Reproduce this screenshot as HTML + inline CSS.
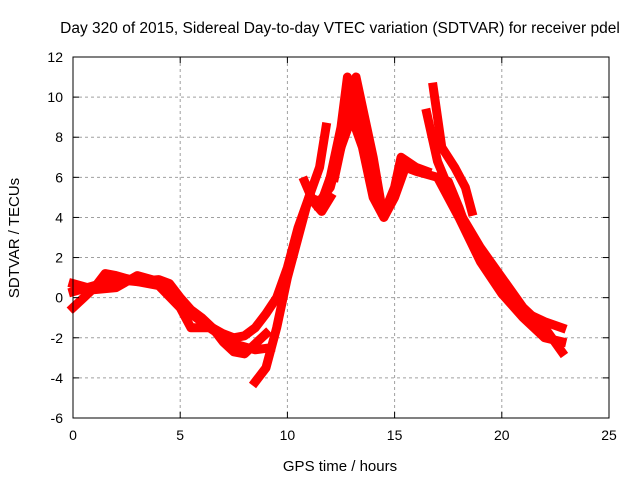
<!DOCTYPE html>
<html><head><meta charset="utf-8"><style>
body{margin:0;background:#fff;}
svg{display:block;font-family:"Liberation Sans",sans-serif;}
</style></head><body>
<svg id="chart" width="640" height="480" viewBox="0 0 640 480">
<rect width="640" height="480" fill="#fff"/>
<text x="340" y="33" font-size="15.5" text-anchor="middle">Day 320 of 2015, Sidereal Day-to-day VTEC variation (SDTVAR) for receiver pdel</text>
<g id="grid"></g><g id="series"></g><g id="axes"></g>
<text x="340" y="471" font-size="15" text-anchor="middle">GPS time / hours</text>
<text transform="translate(19,238) rotate(-90)" font-size="15" text-anchor="middle">SDTVAR / TECUs</text>
</svg>
<script>
const xTicks=[0,5,10,15,20,25];
const yTicks=[-6,-4,-2,0,2,4,6,8,10,12];
const trackA=[[0,0.3],[1,0.6],[2,0.9],[3,0.8],[4,0.9],[4.5,0.7],[5,0],[5.5,-0.6],[6,-1.0],[6.5,-1.5],[7,-1.8],[7.5,-2.0],[8,-1.9],[8.5,-1.5],[9,-0.8],[9.5,0],[10,1.5],[10.5,3.5],[11,5],[11.5,4.8],[12,5.5],[12.5,7.5],[13,9],[13.5,7.5],[14,5],[14.5,4],[15,5],[15.5,6.5],[16,6.3],[17,6],[17.5,5.8],[18,4.5],[18.5,3],[19,2],[19.5,1.3],[20,0.5],[20.5,-0.3],[21,-0.7],[22,-1.2],[22.8,-1.5]];
const trackB=[[0,-0.5],[0.5,0],[1,0.5],[1.5,1.2],[2,1.1],[3,0.8],[4,0.6],[5,-0.5],[5.5,-1.5],[6.5,-1.5],[7,-2.2],[7.5,-2.7],[8,-2.8],[8.5,-2.3],[9,-1.8]];
const trackC=[[0,0.7],[1,0.4],[2,0.5],[3,1.1],[4,0.8],[4.7,0.2],[5.5,-0.8],[6.5,-1.6],[7.5,-2.3],[8.5,-2.6],[9.2,-2.5]];
const trackD=[[8.5,-4.2],[9,-3.5],[9.5,-1.5],[10,1],[10.5,3],[11,5],[11.5,6.5],[11.8,8.5]];
const trackE=[[11.5,4.5],[12,6],[12.5,8.5],[12.8,11],[13,10.5],[13.5,8],[14,6],[14.5,4.2],[15,5.5],[15.3,7],[16,6.5],[16.5,6.3]];
const trackF=[[16.5,9.2],[17,6.8],[17.5,5.5],[18,4.3],[19,2.5],[20,1],[21,-0.5],[22,-1.5],[22.8,-2.7]];
const trackG=[[16.8,10.5],[17.2,7.5],[17.8,6.5],[18.3,5.5],[18.6,4.3]];
const trackH=[[17,6],[18,4],[19,1.8],[20,0.2],[21,-1],[22,-2],[22.8,-2.2]];
const trackI=[[12.2,6],[12.6,8],[13,10],[13.2,11],[13.5,9.5],[14,7],[14.4,4.5]];
const trackJ=[[10.8,5.8],[11.2,4.8],[11.6,4.3],[12,5]];
const tracks=[trackA,trackB,trackC,trackD,trackE,trackF,trackG,trackH,trackI,trackJ];
const X0=73,X1=609,Y0=418,Y1=57;
const xs=v=>X0+(v-0)/25*(X1-X0);
const ys=v=>Y0-(v+6)/18*(Y0-Y1);
const NS="http://www.w3.org/2000/svg";
const mk=(t,a,p)=>{const e=document.createElementNS(NS,t);for(const k in a)e.setAttribute(k,a[k]);p.appendChild(e);return e;};
const grid=document.getElementById('grid'),axes=document.getElementById('axes'),ser=document.getElementById('series');
xTicks.forEach(t=>{const x=xs(t);
 if(t>0&&t<25){const g=mk('line',{x1:x,x2:x,y1:Y1,y2:Y0,stroke:'#a0a0a0','stroke-dasharray':'3,3'},grid);
 
 }
 mk('line',{x1:x,x2:x,y1:Y0,y2:Y0-6,stroke:'#000'},axes);mk('line',{x1:x,x2:x,y1:Y1,y2:Y1+6,stroke:'#000'},axes);
 const l=mk('text',{x:x,y:Y0+22,'font-size':14,'text-anchor':'middle'},axes);l.textContent=t;
 
 });
yTicks.forEach(t=>{const y=ys(t);
 if(t>-6&&t<12){const g=mk('line',{x1:X0,x2:X1,y1:y,y2:y,stroke:'#a0a0a0','stroke-dasharray':'3,3'},grid);
 
 }
 mk('line',{x1:X0,x2:X0+6,y1:y,y2:y,stroke:'#000'},axes);mk('line',{x1:X1,x2:X1-6,y1:y,y2:y,stroke:'#000'},axes);
 const l=mk('text',{x:X0-10,y:y+5,'font-size':14,'text-anchor':'end'},axes);l.textContent=t;
 
 });
const fr=mk('rect',{x:X0,y:Y1,width:X1-X0,height:Y0-Y1,fill:'none',stroke:'#000'},axes);


tracks.forEach((tr,i)=>{
 const p=mk('polyline',{points:tr.map(d=>xs(d[0])+','+ys(d[1])).join(' '),fill:'none',stroke:'#ff0000','stroke-width':9,'stroke-linejoin':'round','stroke-linecap':'square'},ser);
 
 
});
</script>
</body></html>
